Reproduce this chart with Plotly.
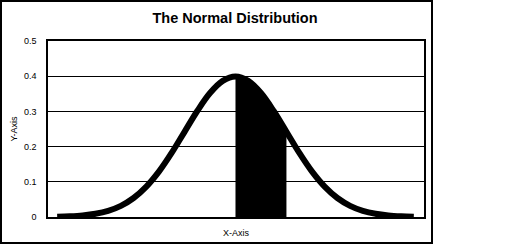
import plotly.graph_objects as go

# Data: standard normal density
x_vals = [-3.5, -3.25, -3.0, -2.75, -2.5, -2.25, -2.0, -1.75, -1.5, -1.25, -1.0, -0.75, -0.5, -0.25,
          0.0, 0.25, 0.5, 0.75, 1.0, 1.25, 1.5, 1.75, 2.0, 2.25, 2.5, 2.75, 3.0, 3.25, 3.5]
y_vals = [0.0009, 0.0020, 0.0044, 0.0091, 0.0175, 0.0317, 0.0540, 0.0863, 0.1295, 0.1826, 0.2420, 0.3011, 0.3521, 0.3867,
          0.3989, 0.3867, 0.3521, 0.3011, 0.2420, 0.1826, 0.1295, 0.0863, 0.0540, 0.0317, 0.0175, 0.0091, 0.0044, 0.0020, 0.0009]
shade_x = [0.0, 0.25, 0.5, 0.75, 1.0]
shade_y = [0.3989, 0.3867, 0.3521, 0.3011, 0.2420]
y_ticks = [0, 0.1, 0.2, 0.3, 0.4, 0.5]
y_tick_text = ["0", "0.1", "0.2", "0.3", "0.4", "0.5"]

fig = go.Figure()
fig.add_trace(go.Scatter(x=shade_x, y=shade_y, mode="lines", fill="tozeroy",
                         fillcolor="black", line=dict(color="black", width=1, shape="spline"),
                         hoverinfo="skip", showlegend=False))
fig.add_trace(go.Scatter(x=x_vals, y=y_vals, mode="lines",
                         line=dict(color="black", width=6, shape="spline"),
                         showlegend=False))

font = "Liberation Sans, Arial, sans-serif"
fig.update_layout(
    width=525, height=245,
    margin=dict(l=48, r=101, t=41, b=28),
    paper_bgcolor="white", plot_bgcolor="white",
    title=dict(text="<b>The Normal Distribution</b>", x=235/525, xanchor="center",
               y=1 - 18/245, yanchor="middle",
               font=dict(family=font, size=14.5, color="black")),
    xaxis=dict(range=[-3.68, 3.70], showticklabels=False, ticks="", showgrid=False,
               zeroline=False, showline=True, linecolor="black", linewidth=1.5, mirror=True,
               automargin=False,
               title=dict(text="X-Axis", font=dict(family=font, size=9, color="black"), standoff=12)),
    yaxis=dict(range=[0, 0.5], tickvals=y_ticks, ticktext=y_tick_text, ticks="",
               showgrid=True, gridcolor="black", gridwidth=1, zeroline=False,
               showline=True, linecolor="black", linewidth=1.5, mirror=True,
               automargin=False,
               tickfont=dict(family=font, size=9, color="black"), ticklabelstandoff=8,
               title=dict(text="Y-Axis", font=dict(family=font, size=9, color="black"), standoff=5)),
    shapes=[dict(type="rect", xref="paper", yref="paper",
                 x0=(1 - 48) / 376, x1=(432 - 48) / 376,
                 y0=(217 - 243) / 176, y1=(217 - 1) / 176,
                 line=dict(color="black", width=2), fillcolor="rgba(0,0,0,0)", layer="below")],
)

fig.write_html("out.html")
